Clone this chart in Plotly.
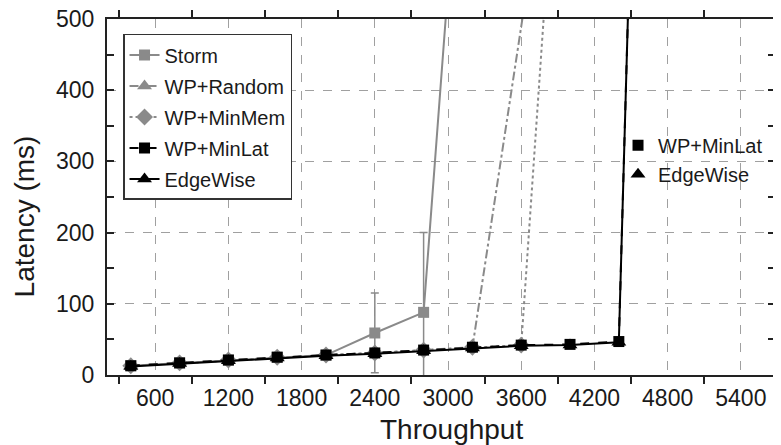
import plotly.graph_objects as go

# ---- data ----
storm_x = [400, 800, 1200, 1600, 2000, 2400, 2800, 3200]
storm_y = [13, 17, 21, 25, 28, 59, 88, 1000]
storm_err = [0, 0, 0, 0, 0, 56, 112, 0]

random_x = [400, 800, 1200, 1600, 2000, 2400, 2800, 3200, 4000]
random_y = [13, 17, 21, 25, 28, 31, 35, 39, 940]

minmem_x = [400, 800, 1200, 1600, 2000, 2400, 2800, 3200, 3600, 4000]
minmem_y = [13, 17, 21, 25, 28, 31, 35, 39, 42, 1040]

minlat_x = [400, 800, 1200, 1600, 2000, 2400, 2800, 3200, 3600, 4000, 4400, 4800]
minlat_y = [13, 17, 21, 25, 28, 31, 35, 39, 42, 43, 47, 2500]

edge_x = [400, 800, 1200, 1600, 2000, 2400, 2800, 3200, 3600, 4000, 4400, 4800]
edge_y = [12, 16, 20, 24, 27, 30, 34, 38, 41, 42, 46, 2500]

x_ticks = [600, 1200, 1800, 2400, 3000, 3600, 4200, 4800, 5400]
y_ticks = [0, 100, 200, 300, 400, 500]

GRAY = "#8a8a8a"
BLACK = "#000000"
FONT = "Liberation Sans, Arial, sans-serif"
TXT = "#1a1a1a"
AX = "#222222"

fig = go.Figure()

fig.add_trace(go.Scatter(
    x=storm_x, y=storm_y, name="Storm", mode="lines+markers", legendgroup="a",
    line=dict(color=GRAY, width=2),
    marker=dict(symbol="square", size=11, color=GRAY),
    error_y=dict(type="data", array=storm_err, color=GRAY, thickness=1.5, width=4),
))
fig.add_trace(go.Scatter(
    x=random_x, y=random_y, name="WP+Random", mode="lines+markers", legendgroup="b",
    line=dict(color=GRAY, width=2, dash="dashdot"),
    marker=dict(symbol="triangle-up", size=13, color=GRAY),
))
fig.add_trace(go.Scatter(
    x=minmem_x, y=minmem_y, name="WP+MinMem", mode="lines+markers", legendgroup="c",
    line=dict(color=GRAY, width=2, dash="dot"),
    marker=dict(symbol="diamond", size=13, color=GRAY),
))
fig.add_trace(go.Scatter(
    x=minlat_x, y=minlat_y, name="WP+MinLat", mode="lines+markers", legendgroup="d",
    line=dict(color=BLACK, width=2, dash="dash"),
    marker=dict(symbol="square", size=11, color=BLACK),
))
fig.add_trace(go.Scatter(
    x=edge_x, y=edge_y, name="EdgeWise", mode="lines+markers", legendgroup="e",
    line=dict(color=BLACK, width=2),
    marker=dict(symbol="triangle-up", size=13, color=BLACK),
))

# secondary marker-only legend at right (empty traces)
fig.add_trace(go.Scatter(
    x=[None], y=[None], name="WP+MinLat", mode="markers", legend="legend2",
    marker=dict(symbol="square", size=11, color=BLACK),
))
fig.add_trace(go.Scatter(
    x=[None], y=[None], name="EdgeWise", mode="markers", legend="legend2",
    marker=dict(symbol="triangle-up", size=13, color=BLACK),
))

grid = dict(showgrid=True, gridcolor="#a0a0a0", griddash="dash", gridwidth=1)

# page body has an 8px default margin: size the figure so it ends at the window edge
fig.update_layout(
    width=773, height=437,
    margin=dict(l=99, r=6, t=11, b=70),
    paper_bgcolor="white", plot_bgcolor="white",
    font=dict(family=FONT, color=TXT),
    legend=dict(
        x=0.024, y=0.958, xanchor="left", yanchor="top",
        bordercolor="#333333", borderwidth=1.5, bgcolor="white",
        font=dict(size=20, family=FONT, color=TXT),
        tracegroupgap=2,
    ),
    legend2=dict(
        x=0.765, y=0.70, xanchor="left", yanchor="top",
        bgcolor="rgba(0,0,0,0)", borderwidth=0,
        font=dict(size=20, family=FONT, color=TXT),
    ),
    xaxis=dict(
        range=[205, 5680], automargin=False,
        tickmode="array", tickvals=x_ticks, ticktext=[str(v) for v in x_ticks],
        **grid,
        showline=True, linecolor=AX, linewidth=2, mirror="ticks",
        ticks="", ticklabelstandoff=1,
        minor=dict(dtick=600, tick0=300, ticks="outside", ticklen=7, tickcolor=AX, tickwidth=2, showgrid=False),
        tickfont=dict(size=23, family=FONT, color=TXT),
        zeroline=False,
    ),
    yaxis=dict(
        range=[0, 500], automargin=False,
        tickmode="array", tickvals=y_ticks, ticktext=[str(v) for v in y_ticks],
        **grid,
        showline=True, linecolor=AX, linewidth=2, mirror="ticks",
        ticks="inside", ticklen=7, tickwidth=2, tickcolor=AX, ticklabelstandoff=6,
        ticklabeloverflow="allow",
        minor=dict(dtick=50, tick0=0, ticks="inside", ticklen=7, tickwidth=2, tickcolor=AX, showgrid=False),
        tickfont=dict(size=23, family=FONT, color=TXT),
        zeroline=False,
    ),
    annotations=[
        dict(text="Throughput", xref="paper", yref="paper", x=0.516, y=-0.154,
             xanchor="center", yanchor="middle", showarrow=False,
             font=dict(size=28, family=FONT, color=TXT)),
        dict(text="Latency (ms)", xref="paper", yref="paper", x=-0.123, y=0.445,
             xanchor="center", yanchor="middle", showarrow=False, textangle=-90,
             font=dict(size=28, family=FONT, color=TXT)),
    ],
)

fig.write_html("out.html")
